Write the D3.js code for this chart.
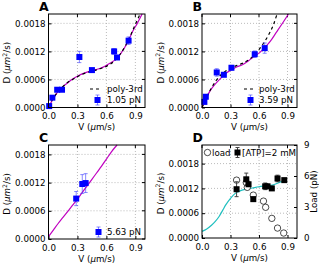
<!DOCTYPE html>
<html><head><meta charset="utf-8">
<script src="https://cdn.jsdelivr.net/npm/d3@7"></script>
<style>body{margin:0;background:#fff}svg{display:block}text{font-family:"DejaVu Sans",sans-serif}</style>
</head><body>
<svg id="c" width="319" height="265"></svg>
<script>
// ---- data ----
const xTicks = [0.0, 0.3, 0.6, 0.9];
const xTickLabels = ["0.0", "0.3", "0.6", "0.9"];
const yTicks = [0.0, 0.0006, 0.0012, 0.0018];
const yTickLabels = ["0.0000", "0.0006", "0.0012", "0.0018"];
const loadTicks = [0, 3, 6, 9];

// Panel A: 1.05 pN
const aV   = [0.007, 0.04, 0.09, 0.14, 0.32, 0.45, 0.68, 0.71, 0.83];
const aD   = [0.00003, 0.00021, 0.00038, 0.00038, 0.00108, 0.00080, 0.00120, 0.00107, 0.00143];
const aErr = [0.00003, 0.00003, 0.00003, 0.00003, 0.00012, 0.00003, 0.00006, 0.00004, 0.00008];
const aFitV = [0.0, 0.03, 0.06, 0.10, 0.145, 0.20, 0.25, 0.30, 0.35, 0.42, 0.49, 0.55, 0.59, 0.65, 0.70, 0.75, 0.80, 0.84, 0.87, 0.92, 0.97];
const aFitD = [0.0, 0.00012, 0.00023, 0.00034, 0.00044, 0.00053, 0.00061, 0.00067, 0.00072, 0.00077, 0.00081, 0.00085, 0.00089, 0.00096, 0.00104, 0.00116, 0.00132, 0.00148, 0.00162, 0.00180, 0.00200];
const aPolyV = [0.0, 0.05, 0.10, 0.15, 0.20, 0.25, 0.30, 0.35, 0.42, 0.49, 0.55, 0.60, 0.65, 0.70, 0.75, 0.80, 0.85, 0.90, 0.95];
const aPolyD = [0.00002, 0.00020, 0.00034, 0.00045, 0.00054, 0.00060, 0.00066, 0.00071, 0.00076, 0.00080, 0.00084, 0.00088, 0.00094, 0.00103, 0.00116, 0.00133, 0.00154, 0.00178, 0.00200];

// Panel B: 3.59 pN
const bV   = [0.025, 0.04, 0.155, 0.23, 0.31, 0.555, 0.66];
const bD   = [0.00012, 0.00023, 0.00075, 0.00070, 0.00085, 0.00114, 0.00127];
const bErr = [0.00004, 0.00004, 0.00008, 0.00004, 0.00005, 0.00007, 0.00011];
const bFitV = [0.0, 0.04, 0.08, 0.13, 0.18, 0.24, 0.31, 0.37, 0.43, 0.49, 0.555, 0.61, 0.66, 0.72, 0.78, 0.84, 0.91];
const bFitD = [0.0, 0.00018, 0.00034, 0.00048, 0.00059, 0.00071, 0.00081, 0.00087, 0.00092, 0.00100, 0.00110, 0.00118, 0.00128, 0.00142, 0.00160, 0.00178, 0.00200];
const bPolyV = [0.0, 0.05, 0.10, 0.15, 0.20, 0.25, 0.31, 0.37, 0.43, 0.49, 0.555, 0.60, 0.65, 0.70, 0.75, 0.79];
const bPolyD = [0.0, 0.00022, 0.00042, 0.00058, 0.00070, 0.00078, 0.00085, 0.00090, 0.00095, 0.00102, 0.00113, 0.00124, 0.00138, 0.00155, 0.00176, 0.00200];

// Panel C: 5.63 pN
const cV   = [0.287, 0.35, 0.385];
const cD   = [0.00086, 0.00117, 0.00119];
const cErr = [0.00015, 0.00020, 0.00020];
const cFitV = [0.0, 0.05, 0.10, 0.15, 0.20, 0.25, 0.29, 0.35, 0.40, 0.45, 0.50, 0.55, 0.60, 0.65, 0.71];
const cFitD = [0.00005, 0.00019, 0.00033, 0.00046, 0.00059, 0.00072, 0.00082, 0.00099, 0.00113, 0.00127, 0.00141, 0.00155, 0.00170, 0.00185, 0.00200];

// Panel D: [ATP]=2 mM
const dV   = [0.364, 0.466, 0.49, 0.54, 0.665, 0.69, 0.735, 0.795, 0.866];
const dD   = [0.00118, 0.00142, 0.00130, 0.00094, 0.00125, 0.00125, 0.00120, 0.00144, 0.00140];
const dErr = [0.00018, 0.00015, 0.00005, 0.00005, 0.00008, 0.00005, 0.00005, 0.00008, 0.00004];
const loadV = [0.364, 0.466, 0.477, 0.54, 0.647, 0.67, 0.735, 0.795, 0.86];
const loadPN = [5.6, 5.36, 4.9, 4.15, 3.57, 2.97, 1.9, 0.96, 0.48];
const dFitV = [0.0, 0.05, 0.10, 0.14, 0.18, 0.22, 0.25, 0.30, 0.35, 0.40, 0.46, 0.53, 0.60, 0.67, 0.74, 0.80, 0.87];
const dFitD = [0.00016, 0.00022, 0.00031, 0.00040, 0.00052, 0.00068, 0.00080, 0.00096, 0.00108, 0.00114, 0.00118, 0.00121, 0.00124, 0.00126, 0.00128, 0.00133, 0.00140];

// ---- layout ----
const svg = d3.select("#c");
const FS = 8.7;
const panels = [
  {t:"A", L:48.5, R:145, T:14, B:107.5, ymax:0.002},
  {t:"B", L:202, R:297, T:14, B:107.5, ymax:0.002},
  {t:"C", L:48.5, R:145, T:145, B:239, ymax:0.002},
  {t:"D", L:202, R:297, T:145, B:238, ymax:0.00225}
];
const MAG = "#c000c0", BLUE = "#0000ff", CYAN = "#1fbfbf";

function setup(p) {
  const x = d3.scaleLinear().domain([0, 1.0]).range([p.L, p.R]);
  const y = d3.scaleLinear().domain([0, p.ymax]).range([p.B, p.T]);
  const g = svg.append("g");
  g.selectAll(".gx").data(xTicks.slice(1)).join("line")
    .attr("x1", d => x(d)).attr("x2", d => x(d)).attr("y1", p.T).attr("y2", p.B)
    .attr("stroke", "#aaa").attr("stroke-width", 0.8).attr("stroke-dasharray", "1,2");
  g.selectAll(".gy").data(yTicks.slice(1)).join("line")
    .attr("y1", d => y(d)).attr("y2", d => y(d)).attr("x1", p.L).attr("x2", p.R)
    .attr("stroke", "#aaa").attr("stroke-width", 0.8).attr("stroke-dasharray", "1,2");
  const xa = d3.axisBottom(x).tickValues(xTicks).tickFormat((d, i) => xTickLabels[i]).tickSize(-3).tickPadding(5.5);
  const ya = d3.axisLeft(y).tickValues(yTicks).tickFormat((d, i) => yTickLabels[i]).tickSize(-3).tickPadding(3);
  const gx = g.append("g").attr("transform", `translate(0,${p.B})`).call(xa);
  const gy = g.append("g").attr("transform", `translate(${p.L},0)`).call(ya);
  [gx, gy].forEach(a => {
    a.select(".domain").remove();
    a.selectAll("text").attr("font-size", FS).attr("fill", "#000").attr("font-family", "DejaVu Sans");
    a.selectAll("line").attr("stroke", "#000");
  });
  g.selectAll(".tt").data(xTicks).join("line")
    .attr("x1", d => x(d)).attr("x2", d => x(d)).attr("y1", p.T).attr("y2", p.T + 3).attr("stroke", "#000");
  if (p.t !== "D") {
    g.selectAll(".rt").data(yTicks).join("line")
      .attr("y1", d => y(d)).attr("y2", d => y(d)).attr("x1", p.R).attr("x2", p.R - 3).attr("stroke", "#000");
  }
  const xl = g.append("text").attr("x", (p.L + p.R) / 2).attr("y", p.B + 22.5).attr("text-anchor", "middle").attr("font-size", FS);
  xl.append("tspan").text("V (");
  xl.append("tspan").attr("font-style", "italic").text("μ");
  xl.append("tspan").text("m/s)");
  const yl = g.append("text").attr("transform", `translate(${p.L - 38.5},${(p.T + p.B) / 2 + 2}) rotate(-90)`)
    .attr("text-anchor", "middle").attr("font-size", FS);
  yl.append("tspan").text("D (");
  yl.append("tspan").attr("font-style", "italic").text("μm");
  yl.append("tspan").attr("dy", -3.5).attr("font-size", 6.2).text("2");
  yl.append("tspan").attr("dy", 3.5).text("/s)");
  g.append("text").attr("x", p.L - 9.5).attr("y", p.T - 3).attr("font-size", 12.5).attr("font-weight", "bold").text(p.t);
  return {x, y, g};
}

function curve(g, x, y, vs, ds, color, dash) {
  const pts = vs.map((v, i) => [v, ds[i]]);
  g.append("path").datum(pts)
    .attr("d", d3.line().x(d => x(d[0])).y(d => y(d[1])).curve(d3.curveMonotoneX))
    .attr("fill", "none").attr("stroke", color).attr("stroke-width", 1.2)
    .attr("stroke-dasharray", dash || null);
}

function errPoints(g, x, y, vs, ds, es, color, errColor) {
  const pts = vs.map((v, i) => ({v, d: ds[i], e: es[i]}));
  const eg = g.append("g").attr("stroke", errColor).attr("stroke-width", 1);
  eg.selectAll(".e").data(pts).join("line")
    .attr("x1", d => x(d.v)).attr("x2", d => x(d.v)).attr("y1", d => y(d.d - d.e)).attr("y2", d => y(d.d + d.e));
  eg.selectAll(".c1").data(pts).join("line")
    .attr("x1", d => x(d.v) - 2).attr("x2", d => x(d.v) + 2).attr("y1", d => y(d.d + d.e)).attr("y2", d => y(d.d + d.e));
  eg.selectAll(".c2").data(pts).join("line")
    .attr("x1", d => x(d.v) - 2).attr("x2", d => x(d.v) + 2).attr("y1", d => y(d.d - d.e)).attr("y2", d => y(d.d - d.e));
  g.selectAll(".m").data(pts).join("rect")
    .attr("x", d => x(d.v) - 3).attr("y", d => y(d.d) - 3).attr("width", 6).attr("height", 6)
    .attr("fill", color);
}

function legendMarker(g, cx, cy, color, errColor) {
  g.append("line").attr("x1", cx).attr("x2", cx).attr("y1", cy - 5).attr("y2", cy + 5).attr("stroke", errColor);
  g.append("line").attr("x1", cx - 2).attr("x2", cx + 2).attr("y1", cy - 5).attr("y2", cy - 5).attr("stroke", errColor);
  g.append("line").attr("x1", cx - 2).attr("x2", cx + 2).attr("y1", cy + 5).attr("y2", cy + 5).attr("stroke", errColor);
  g.append("rect").attr("x", cx - 3).attr("y", cy - 3).attr("width", 6).attr("height", 6).attr("fill", color);
}

function box(g, p) {
  g.append("rect").attr("x", p.L).attr("y", p.T).attr("width", p.R - p.L).attr("height", p.B - p.T)
    .attr("fill", "none").attr("stroke", "#000").attr("stroke-width", 1);
}

const ERRB = "rgba(60,60,255,0.6)";

// A
{
  const p = panels[0]; const {x, y, g} = setup(p);
  curve(g, x, y, aFitV, aFitD, MAG);
  curve(g, x, y, aPolyV, aPolyD, "#000", "3,3");
  errPoints(g, x, y, aV, aD, aErr, BLUE, ERRB);
  g.append("line").attr("x1", 90).attr("x2", 101).attr("y1", 89).attr("y2", 89).attr("stroke", "#000").attr("stroke-width", 1.2).attr("stroke-dasharray", "3,3");
  g.append("text").attr("x", 107).attr("y", 92).attr("font-size", FS).text("poly-3rd");
  legendMarker(g, 97.5, 100, BLUE, ERRB);
  g.append("text").attr("x", 107).attr("y", 103).attr("font-size", FS).text("1.05 pN");
  box(g, p);
}
// B
{
  const p = panels[1]; const {x, y, g} = setup(p);
  curve(g, x, y, bFitV, bFitD, MAG);
  curve(g, x, y, bPolyV, bPolyD, "#000", "3,3");
  errPoints(g, x, y, bV, bD, bErr, BLUE, ERRB);
  g.append("line").attr("x1", 244).attr("x2", 255).attr("y1", 89).attr("y2", 89).attr("stroke", "#000").attr("stroke-width", 1.2).attr("stroke-dasharray", "3,3");
  g.append("text").attr("x", 259).attr("y", 92).attr("font-size", FS).text("poly-3rd");
  legendMarker(g, 250.5, 100, BLUE, ERRB);
  g.append("text").attr("x", 259).attr("y", 103).attr("font-size", FS).text("3.59 pN");
  box(g, p);
}
// C
{
  const p = panels[2]; const {x, y, g} = setup(p);
  curve(g, x, y, cFitV, cFitD, MAG);
  errPoints(g, x, y, cV, cD, cErr, BLUE, ERRB);
  legendMarker(g, 98.5, 232, BLUE, ERRB);
  g.append("text").attr("x", 107).attr("y", 235).attr("font-size", FS).text("5.63 pN");
  box(g, p);
}
// D
{
  const p = panels[3]; const {x, y, g} = setup(p);
  const y2 = d3.scaleLinear().domain([0, 9]).range([p.B, p.T]);
  const ra = d3.axisRight(y2).tickValues(loadTicks).tickFormat(d3.format("d")).tickSize(-3).tickPadding(7);
  const gr = g.append("g").attr("transform", `translate(${p.R},0)`).call(ra);
  gr.select(".domain").remove();
  gr.selectAll("text").attr("font-size", FS).attr("fill", "#000");
  gr.selectAll("line").attr("stroke", "#000");
  g.append("text").attr("transform", `translate(${p.R + 20},${(p.T + p.B) / 2}) rotate(-90)`)
    .attr("text-anchor", "middle").attr("font-size", FS).text("Load (pN)");
  curve(g, x, y, dFitV, dFitD, CYAN);
  g.selectAll(".ld").data(loadV.map((v, i) => [v, loadPN[i]])).join("circle")
    .attr("cx", d => x(d[0])).attr("cy", d => y2(d[1])).attr("r", 3.2)
    .attr("fill", "#fff").attr("stroke", "#000").attr("stroke-width", 0.7);
  errPoints(g, x, y, dV, dD, dErr, "#000", "#444");
  g.append("circle").attr("cx", 207.5).attr("cy", 152.5).attr("r", 3.2).attr("fill", "#fff").attr("stroke", "#000").attr("stroke-width", 0.7);
  g.append("text").attr("x", 212).attr("y", 155.5).attr("font-size", FS).text("load");
  legendMarker(g, 237.5, 152.5, "#000", "#444");
  g.append("text").attr("x", 242).attr("y", 155.5).attr("font-size", FS).text("[ATP]=2 mM");
  box(g, p);
}
</script>
</body></html>
